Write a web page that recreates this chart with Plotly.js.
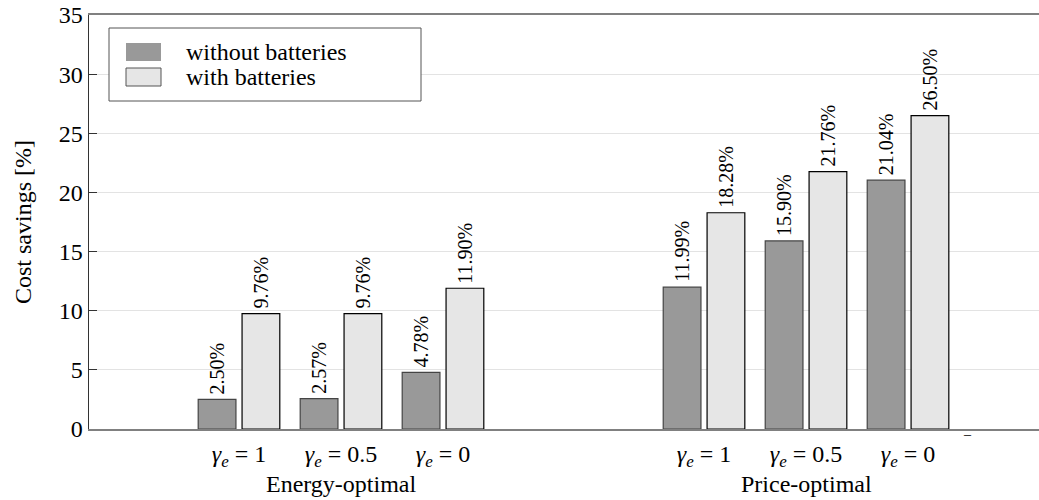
<!DOCTYPE html>
<html>
<head>
<meta charset="utf-8">
<script src="https://cdn.plot.ly/plotly-3.0.1.min.js"></script>
<style>html,body{margin:0;padding:0;background:#fff;}#chart{width:1039px;height:500px;}</style>
</head>
<body>
<div id="chart"></div>
<script>
// ---- data ----
const groups = ["Energy-optimal", "Price-optimal"];
const gammaLabels = ["1", "0.5", "0"];
const seriesNames = ["without batteries", "with batteries"];
const withoutBatteries = [2.50, 2.57, 4.78, 11.99, 15.90, 21.04];
const withBatteries = [9.76, 9.76, 11.90, 18.28, 21.76, 26.50];
const withoutText = ["2.50%", "2.57%", "4.78%", "11.99%", "15.90%", "21.04%"];
const withText = ["9.76%", "9.76%", "11.90%", "18.28%", "21.76%", "26.50%"];
const yTicks = [0, 5, 10, 15, 20, 25, 30, 35];

const font = '"Liberation Serif", "DejaVu Serif", serif';
const FS = 24;

// ---- layout helpers (positions) ----
const groupStep = 4.559;
const xs = [];
const tickText = [];
groups.forEach((g, gi) => {
  gammaLabels.forEach((lab, li) => {
    xs.push(1 + gi * groupStep + li);
    tickText.push('<span style="font-style:italic;font-size:' + FS + 'px">γ</span>' +
      '<sub><span style="font-style:italic;font-size:' + Math.round(FS * 0.7) + 'px">e</span></sub>' +
      '<span style="font-size:' + FS + 'px"> = ' + lab + '</span>');
  });
});
const groupCenters = groups.map((g, gi) => 2 + gi * groupStep);

const colors = ['#999999', '#e6e6e6'];
const borders = ['#444444', '#000000'];
const BW = 0.37;
const offsets = [-0.40, 0.03];

function barTrace(i, vals) {
  return {
    type: 'bar', name: seriesNames[i],
    x: xs, y: vals, width: BW, offset: offsets[i],
    marker: {color: colors[i], line: {color: borders[i], width: 1.2}},
    hoverinfo: 'skip', showlegend: false
  };
}

// value labels above bars, rotated, anchored on the bar tops
function valueLabels(i, vals, txt) {
  return vals.map((v, k) => ({
    text: txt[k], x: xs[k] + offsets[i] + BW / 2, xref: 'x', y: v, yref: 'y',
    textangle: -90, xanchor: 'center', yanchor: 'bottom', yshift: 3,
    showarrow: false, font: {family: font, size: 20, color: '#000'}
  }));
}

// pixel -> paper helpers for the hand-built legend box
const PL = 89, PW = 950, PB = 429, PH = 414;
const px = v => (v - PL) / PW;
const py = v => (PB - v) / PH;

const shapes = [
  {type: 'rect', xref: 'paper', yref: 'paper', x0: px(109), x1: px(421), y0: py(101), y1: py(28),
   line: {color: '#555', width: 1}, fillcolor: '#fff', layer: 'above'},
  {type: 'rect', xref: 'paper', yref: 'paper', x0: px(126), x1: px(161), y0: py(61), y1: py(43),
   line: {color: colors[0], width: 0}, fillcolor: colors[0], layer: 'above'},
  {type: 'rect', xref: 'paper', yref: 'paper', x0: px(126), x1: px(161), y0: py(86), y1: py(68),
   line: {color: '#555', width: 1}, fillcolor: colors[1], layer: 'above'}
];

const x0 = 1 - 150 / 102;
const layout = {
  width: 1039, height: 500,
  margin: {l: 89, r: 0, t: 15, b: 71},
  paper_bgcolor: '#fff', plot_bgcolor: '#fff',
  barmode: 'overlay',
  font: {family: font, size: FS, color: '#000'},
  showlegend: false,
  xaxis: {
    range: [x0, x0 + 950 / 102],
    tickmode: 'array', tickvals: xs, ticktext: tickText,
    showgrid: false, zeroline: false,
    showline: true, linecolor: '#808080', linewidth: 2, mirror: true,
    ticks: '', ticklabelstandoff: 2,
    tickfont: {family: font, size: FS, color: '#000'}
  },
  yaxis: {
    range: [0, 35], tickmode: 'array', tickvals: yTicks,
    showgrid: true, gridcolor: '#e3e3e3', gridwidth: 1,
    zeroline: false,
    showline: true, linecolor: '#333', linewidth: 1.5,
    ticks: 'inside', ticklen: 8, tickcolor: '#333', tickwidth: 1,
    tickfont: {family: font, size: FS, color: '#000'},
    title: {text: 'Cost savings [%]', font: {family: font, size: FS, color: '#000'}, standoff: 20}
  },
  shapes: shapes,
  annotations: groups.map((g, gi) => ({
    text: g, x: groupCenters[gi], xref: 'x', y: py(484), yref: 'paper',
    xanchor: 'center', yanchor: 'middle', showarrow: false,
    font: {family: font, size: FS, color: '#000'}
  })).concat([
    {text: seriesNames[0], x: px(184), xref: 'paper', y: py(52), yref: 'paper',
     xanchor: 'left', yanchor: 'middle', showarrow: false, font: {family: font, size: FS, color: '#000'}},
    {text: seriesNames[1], x: px(184), xref: 'paper', y: py(77), yref: 'paper',
     xanchor: 'left', yanchor: 'middle', showarrow: false, font: {family: font, size: FS, color: '#000'}},
    {text: '–', x: px(967), xref: 'paper', y: py(434), yref: 'paper',
     xanchor: 'center', yanchor: 'middle', showarrow: false,
     font: {family: font, size: 14, color: '#000'}}
  ]).concat(valueLabels(0, withoutBatteries, withoutText))
    .concat(valueLabels(1, withBatteries, withText))
};

Plotly.newPlot('chart', [
  barTrace(0, withoutBatteries),
  barTrace(1, withBatteries)
], layout, {displayModeBar: false, staticPlot: true});
</script>
</body>
</html>
